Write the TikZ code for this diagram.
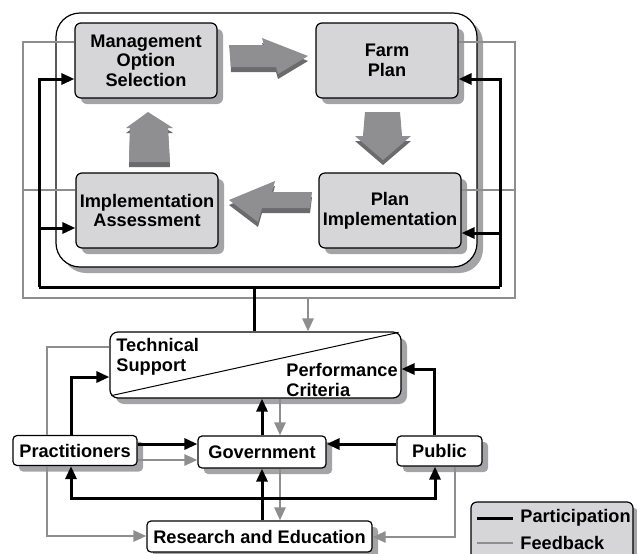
\documentclass[tikz,border=0pt]{standalone}
\usepackage{fontspec}
\setmainfont{Liberation Sans}
\usetikzlibrary{arrows.meta,shadows}
\definecolor{boxgray}{HTML}{D6D6D8}
\definecolor{shadowgray}{HTML}{A4A4A6}
\definecolor{linegray}{HTML}{8E8E8E}
\definecolor{arrowlight}{HTML}{8F8F91}
\definecolor{arrowdark}{HTML}{6B6B6D}

\begin{document}
\begin{tikzpicture}[x=0.5pt, y=-0.5pt,
    every node/.style={font=\fontsize{9.1}{9.8}\selectfont\bfseries},
    boxshadow/.style={drop shadow={shadow xshift=3pt, shadow yshift=-3pt, fill=shadowgray, opacity=1}},
    cyclebox/.style={draw, line width=0.6pt, fill=boxgray, rounded corners=3pt, minimum width=71pt, minimum height=37.5pt, align=center, inner sep=1pt, boxshadow},
    actor/.style={draw, line width=0.6pt, fill=white, rounded corners=2pt, minimum height=15pt, inner sep=2pt, boxshadow},
    part/.style={line width=1.5pt},
    fb/.style={line width=1.3pt, color=linegray},
    arr/.style={-{Triangle[length=6.5pt,width=5.5pt]}}]
    \useasboundingbox (0,0) rectangle (637,553);

    % management cycle
    \node[draw, line width=0.6pt, fill=white, rounded corners=12pt, minimum width=210.5pt, minimum height=127pt, boxshadow] (cycle) at (266.5,140) {};
    \node[cyclebox] (mos) at (146,60.5) {Management\\Option\\Selection};
    \node[cyclebox] (farm) at (387,60.5) {Farm\\Plan};
    \node[cyclebox] (ias) at (147,210.5) {Implementation\\Assessment};
    \node[cyclebox] (pim) at (390,210.5) {Plan\\Implementation};

    % block arrows
    \fill[arrowdark] (230,50) -- (264,50) -- (262,43) -- (308,61) -- (278,79) -- (276,72) -- (231,72) -- cycle;
    \fill[arrowlight] (229,45) -- (264,45) -- (262,38) -- (308,56) -- (278,74) -- (276,67) -- (231,67) -- cycle;
    \fill[arrowdark] (365,117) -- (400,117) -- (402,141) -- (411,141) -- (383,165) -- (355,141) -- (363,141) -- cycle;
    \fill[arrowlight] (365,112) -- (400,112) -- (402,136) -- (411,136) -- (383,160) -- (355,136) -- (363,136) -- cycle;
    \fill[arrowdark] (229,205) -- (275,186) -- (272,197) -- (312,197) -- (310,213) -- (262,213) -- (258,227) -- cycle;
    \fill[arrowlight] (229,200) -- (275,181) -- (272,192) -- (312,192) -- (310,208) -- (262,208) -- (258,222) -- cycle;
    \fill[arrowdark] (148,117) -- (173,133) -- (168,133) -- (170,167) -- (129,167) -- (130,133) -- (126,133) -- cycle;
    \fill[arrowlight] (148,112) -- (173,128) -- (168,128) -- (170,162) -- (129,162) -- (130,128) -- (126,128) -- cycle;

    % lower nodes
    \node[actor, rounded corners=4pt, minimum width=145.5pt, minimum height=33pt] (tech) at (255.5,365) {};
    \draw[line width=0.5pt] ([shift={(1pt,1.5pt)}]tech.south west) -- ([shift={(-1.5pt,-0.5pt)}]tech.north east);
    \node[anchor=north west, align=left, inner sep=0pt] (tslbl) at (116,338) {Technical\\Support};
    \node[anchor=north west, align=left, inner sep=0pt] (pclbl) at (286,363) {Performance\\Criteria};
    \node[actor, minimum width=62pt] (prac) at (75,450.5) {Practitioners};
    \node[actor, minimum width=64pt, minimum height=16pt] (gov) at (262,452) {Government};
    \node[actor, minimum width=42.5pt] (pub) at (439.5,451) {Public};
    \node[actor, minimum width=112.5pt, minimum height=15.5pt] (res) at (259.5,536.5) {Research and Education};

    % feedback around the cycle
    \coordinate (fnw) at (23,42);
    \coordinate (fne) at (515,42);
    \coordinate (fsw) at (23,298);
    \coordinate (fse) at (515,298);
    \coordinate (fl) at (23,190);
    \coordinate (fr) at (515,190);
    \coordinate (fdrop) at (308,298);
    \draw[fb] (mos.west |- fnw) -- (fnw) -- (fsw) -- (fse) -- (fne) -- (farm.east |- fne);
    \draw[fb] (ias.west |- fl) -- (fl);
    \draw[fb] (pim.east |- fr) -- (fr);
    \draw[fb, arr] (fdrop) -- (tech.north -| fdrop);

    % participation around the cycle
    \coordinate (pml) at (39,79);
    \coordinate (pil) at (39,228);
    \coordinate (psw) at (39,287);
    \coordinate (pfr) at (500,79);
    \coordinate (ppr) at (500,233);
    \coordinate (pse) at (500,287);
    \coordinate (pdrop) at (254,287);
    \draw[part] (psw) -- (pse);
    \draw[part] (pdrop) -- (tech.north -| pdrop);
    \draw[part, arr] (psw) -- (pml) -- (mos.west |- pml);
    \draw[part, arr] (pil) -- (ias.west |- pil);
    \draw[part, arr] (pse) -- (pfr) -- (farm.east |- pfr);
    \draw[part, arr] (ppr) -- (pim.east |- ppr);

    % lower connectors
    \coordinate (ga) at (47,347);
    \coordinate (gb) at (47,536);
    \coordinate (gc) at (455,537);
    \coordinate (pa) at (71,377);
    \coordinate (pb) at (434,369);
    \coordinate (lp) at (71,498);
    \coordinate (lq) at (435,498);
    \draw[fb] (tech.west |- ga) -- (ga) -- (prac.north -| ga);
    \draw[fb, arr] (prac.south -| gb) -- (gb) -- (res.west |- gb);
    \draw[fb, arr] (pub.south -| gc) -- (gc) -- (res.east |- gc);
    \draw[part, arr] (prac.north -| pa) -- (pa) -- (tech.west |- pa);
    \draw[part, arr] (pub.north -| pb) -- (pb) -- (tech.east |- pb);
    \draw[part, arr] ([yshift=3.25pt]prac.east) -- ([yshift=3.25pt]prac.east -| gov.west);
    \draw[fb, arr] ([yshift=-4.75pt]prac.east) -- ([yshift=-4.75pt]prac.east -| gov.west);
    \draw[part, arr] ([yshift=3.5pt]pub.west) -- ([yshift=3.5pt]pub.west -| gov.east);
    \draw[part, arr] (gov.north) -- (gov.north |- tech.south);
    \draw[fb, arr] ([xshift=9pt]gov.north |- tech.south) -- ([xshift=9pt]gov.north);
    \draw[part, arr] (gov.south |- res.north) -- (gov.south);
    \draw[fb, arr] ([xshift=9pt]gov.south) -- ([xshift=9pt]gov.south |- res.north);
    \draw[part, {Triangle[length=6.5pt,width=5.5pt]}-{Triangle[length=6.5pt,width=5.5pt]}] (prac.south -| lp) -- (lp) -- (lq) -- (pub.south -| lq);

    % legend
    \node[draw, line width=0.6pt, fill=boxgray, rounded corners=3pt, minimum width=81pt, minimum height=34pt, boxshadow] (legend) at (552,536) {};
    \node[anchor=west, inner sep=3.5pt] (partlbl) at (513,518) {Participation};
    \node[anchor=west, inner sep=3.5pt] (fblbl) at (513,543) {Feedback};
    \coordinate (lg1) at (477,518);
    \coordinate (lg2) at (477,543);
    \draw[part] (lg1) -- (partlbl.west);
    \draw[fb] (lg2) -- (fblbl.west);
\end{tikzpicture}
\end{document}
